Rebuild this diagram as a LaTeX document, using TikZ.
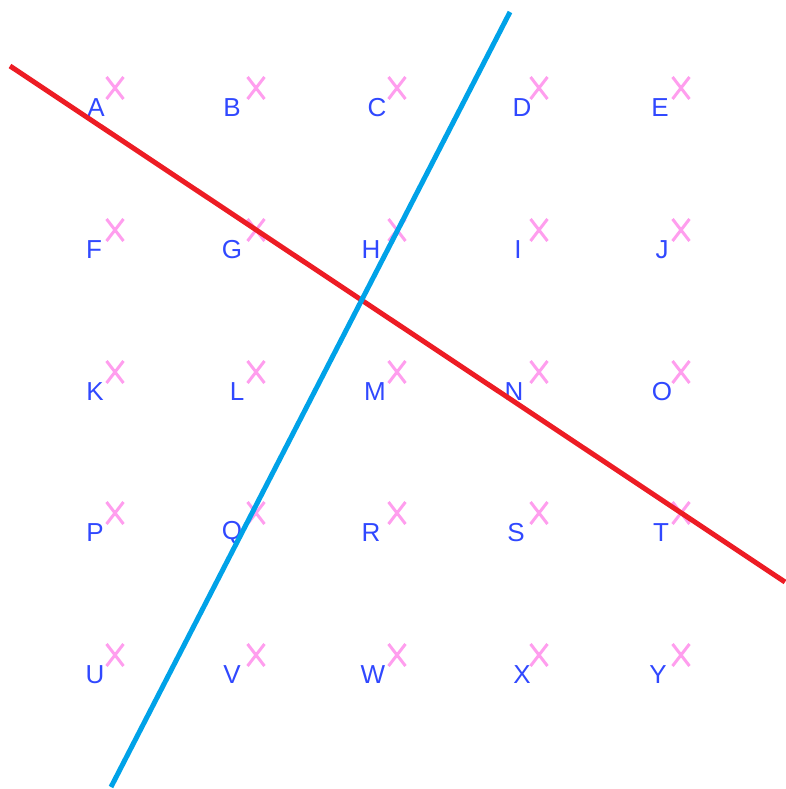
\documentclass[tikz,border=0pt]{standalone}
\usepackage{fontspec}
\setmainfont{Liberation Sans}
\usetikzlibrary{shapes.misc}
\definecolor{redline}{HTML}{ED1C24}
\definecolor{blueline}{HTML}{00A2E8}
\definecolor{lblblue}{HTML}{3048FF}
\definecolor{xpink}{HTML}{FF9EEE}
\tikzset{
  lbl/.style={text=lblblue, font=\fontsize{26}{26}\selectfont, inner sep=0pt},
  xmark/.style={cross out, draw=xpink, line width=3pt, minimum width=14pt, minimum height=19pt, inner sep=0pt},
  redl/.style={draw=redline, line width=5pt},
  bluel/.style={draw=blueline, line width=5pt},
}
\begin{document}
\begin{tikzpicture}[x=1pt,y=-1pt]
\useasboundingbox (0,0) rectangle (785,789);
\def\xs{{115,256,397,539,681}}
\def\ys{{88,230,372,513,655}}
\foreach \n/\lx [count=\i from 0] in {A/96,B/232,C/377,D/522,E/660,F/94,G/232,H/371,I/518,J/662,K/95,L/237,M/375,N/514,O/662,P/95,Q/232,R/371,S/516,T/661,U/95,V/232,W/373,X/522,Y/658}{
  \pgfmathsetmacro{\c}{int(mod(\i,5))}
  \pgfmathsetmacro{\r}{int(\i/5)}
  \pgfmathsetmacro{\px}{\xs[\c]}
  \pgfmathsetmacro{\py}{\ys[\r]}
  \node[xmark] (x\n) at (\px,\py) {};
  \node[lbl] (\n) at (\lx,\py+20) {\n};
}
\coordinate (r1) at (10,66);
\coordinate (r2) at (785,582);
\coordinate (b1) at (510,12);
\coordinate (b2) at (111,787);
\draw[redl] (r1) -- (r2);
\draw[bluel] (b1) -- (b2);
\end{tikzpicture}
\end{document}
